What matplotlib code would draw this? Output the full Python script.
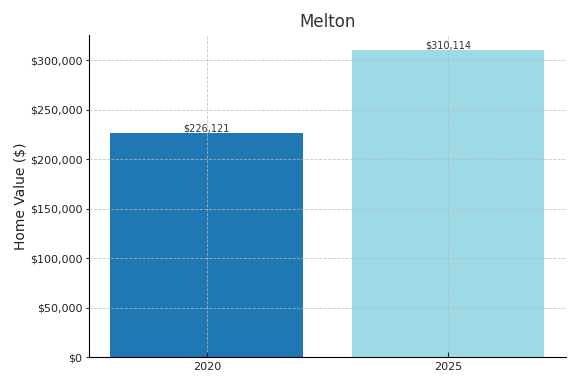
import matplotlib
matplotlib.use("Agg")
import matplotlib.pyplot as plt
from matplotlib.ticker import FuncFormatter

years = ["2020", "2025"]
values = [226121, 310114]
colors = ["#1f77b4", "#9edae5"]

fig, ax = plt.subplots(figsize=(5.8, 3.86), dpi=100)
bars = ax.bar(years, values, color=colors, width=0.8)

for b, v in zip(bars, values):
    ax.text(b.get_x() + b.get_width() / 2, v, f"${v:,}", ha="center", va="bottom",
            fontsize=7, color="#333333")

ax.set_title("Melton", fontsize=12, color="#333333")
ax.set_ylabel("Home Value ($)", fontsize=10, color="#222222", labelpad=1)
ax.yaxis.set_major_formatter(FuncFormatter(lambda v, _: f"${v:,.0f}"))
ax.set_axisbelow(False)
ax.grid(True, linestyle="--", color="#bbbbbb", linewidth=0.6, alpha=0.8)
ax.spines["top"].set_visible(False)
ax.spines["right"].set_visible(False)
ax.tick_params(axis="x", direction="in", labelsize=8, colors="#222222")
ax.tick_params(axis="y", labelsize=8, colors="#222222", length=2.5, pad=2)

fig.subplots_adjust(left=0.153, right=0.976, top=0.909, bottom=0.075)
fig.savefig("out.png", dpi=100)
